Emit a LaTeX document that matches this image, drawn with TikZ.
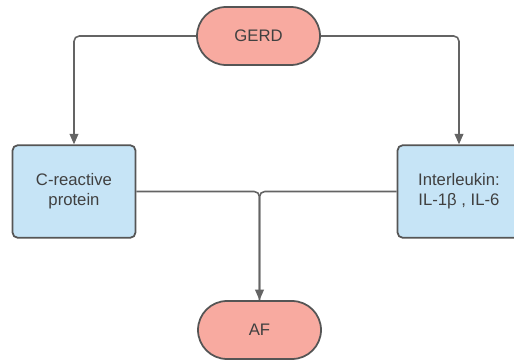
\documentclass[tikz,border=0pt]{standalone}
\usepackage{fontspec}
\setmainfont{Liberation Sans}
\usetikzlibrary{positioning}
\usetikzlibrary{arrows.meta,shapes}
\usetikzlibrary{calc}
\definecolor{pillred}{RGB}{248,170,160}
\definecolor{boxblue}{RGB}{198,228,246}
\definecolor{linegray}{RGB}{100,100,100}
\definecolor{bordergray}{RGB}{85,85,85}
\tikzstyle{pill}=[rounded rectangle,fill=pillred,draw=bordergray,line width=1pt,minimum width=70pt,minimum height=33pt,inner sep=0pt,text=black!75]
\tikzstyle{factor}=[rectangle,rounded corners=3pt,fill=boxblue,draw=bordergray,line width=1pt,minimum width=70pt,minimum height=52.7pt,inner sep=0pt,align=center,text=black!75]
\tikzstyle{edge} = [draw,line width=0.9pt,-{Triangle[length=6pt,width=5pt]},linegray,rounded corners=3pt]
\tikzstyle{undirectededge} = [draw,line width=0.9pt,linegray,rounded corners=3pt]

\begin{document}
\begin{tikzpicture}[x=0.02cm,y=-0.02cm,font=\fontsize{9.5}{11.3}\selectfont]
   \useasboundingbox (0,0) rectangle (514,364);

   \foreach \pos/\name/\label in {{(258.5,36)/gerd/GERD}, {(259.5,330)/af/AF}}
        \node[pill] (\name) at \pos {\label};

   \foreach \pos/\name/\label in {{(74,191.5)/crp/{C-reactive\\protein}}, {(459,191.5)/il/{Interleukin:\\IL-1β , IL-6}}}
        \node[factor] (\name) at \pos {\label};

    % GERD to the markers
   \path[edge] (gerd.west) -| (crp.north);
   \path[edge] (gerd.east) -| (il.north);

    % markers to AF
   \path[undirectededge] (crp.east) -| (af.north);
   \path[edge] (il.west) -| (af.north);
\end{tikzpicture}
\end{document}
